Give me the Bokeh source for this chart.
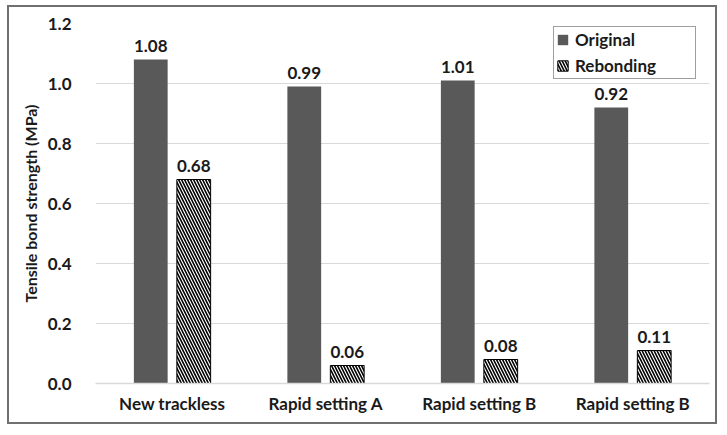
from bokeh.plotting import figure
from bokeh.models import ColumnDataSource, Range1d, FixedTicker, Legend, LegendItem, LabelSet
from bokeh.core.properties import value
from bokeh.embed import file_html
from bokeh.resources import INLINE

categories = ["New trackless", "Rapid setting A", "Rapid setting B", "Rapid setting B"]
original = [1.08, 0.99, 1.01, 0.92]
rebonding = [0.68, 0.06, 0.08, 0.11]
y_ticks = [0.0, 0.2, 0.4, 0.6, 0.8, 1.0, 1.2]

xs = list(range(len(categories)))
FONT = "Lato"

src_o = ColumnDataSource(dict(x=[i - 0.14 for i in xs], top=original,
                              lbl=[f"{v:.2f}" for v in original]))
src_r = ColumnDataSource(dict(x=[i + 0.14 for i in xs], top=rebonding,
                              lbl=[f"{v:.2f}" for v in rebonding]))

p = figure(width=710, height=419, output_backend="svg", toolbar_location=None,
           x_range=Range1d(-0.5, len(categories) - 0.5), y_range=Range1d(0, 1.2),
           min_border_left=86, min_border_right=10, min_border_top=16, min_border_bottom=43)
p.styles = {"border": "2px solid #707070", "margin-left": "7px", "margin-top": "5px"}
p.outline_line_color = None
p.background_fill_color = "white"

r_o = p.vbar(x="x", top="top", width=0.22, source=src_o, fill_color="#595959", line_color=None)
r_r = p.vbar(x="x", top="top", width=0.22, source=src_r, fill_color="white",
             line_color="black", line_width=1,
             hatch_pattern="left_diagonal_line", hatch_color="black",
             hatch_scale=6, hatch_weight=1.6)

for s in (src_o, src_r):
    p.add_layout(LabelSet(x="x", y="top", text="lbl", source=s, text_align="center",
                          text_baseline="bottom", y_offset=8, text_font=value(FONT),
                          text_font_style="bold", text_font_size="17px", text_color="#1a1a1a"))

p.xaxis.ticker = FixedTicker(ticks=xs)
p.xaxis.major_label_overrides = {i: c for i, c in enumerate(categories)}
p.xaxis.major_label_text_font = FONT
p.xaxis.major_label_text_font_style = "bold"
p.xaxis.major_label_text_font_size = "17px"
p.xaxis.major_label_text_color = "#1a1a1a"
p.xaxis.major_label_standoff = 3
p.xaxis.axis_line_color = "#d9d9d9"
p.xaxis.axis_line_width = 1.5
p.xaxis.major_tick_line_color = None
p.xaxis.minor_tick_line_color = None

p.yaxis.ticker = FixedTicker(ticks=y_ticks)
p.yaxis.major_label_overrides = {v: f"{v:.1f}" for v in y_ticks}
p.yaxis.major_label_text_font = FONT
p.yaxis.major_label_text_font_style = "bold"
p.yaxis.major_label_text_font_size = "17px"
p.yaxis.major_label_text_color = "#1a1a1a"
p.yaxis.major_label_standoff = 18
p.yaxis.axis_line_color = None
p.yaxis.major_tick_line_color = None
p.yaxis.minor_tick_line_color = None
p.yaxis.axis_label = "Tensile bond strength (MPa)"
p.yaxis.axis_label_text_font = FONT
p.yaxis.axis_label_text_font_style = "bold"
p.yaxis.axis_label_text_font_size = "16px"
p.yaxis.axis_label_text_color = "#1a1a1a"
p.yaxis.axis_label_standoff = 5

p.xgrid.grid_line_color = None
p.ygrid.grid_line_color = "#d9d9d9"
p.ygrid.grid_line_width = 1.2

legend = Legend(items=[LegendItem(label="Original", renderers=[r_o]),
                       LegendItem(label="Rebonding", renderers=[r_r])],
                location=(458, 304), orientation="vertical")
legend.label_text_font = FONT
legend.label_text_font_style = "bold"
legend.label_text_font_size = "17px"
legend.label_text_color = "#1a1a1a"
legend.glyph_width = 13
legend.glyph_height = 13
legend.label_width = 118
legend.label_height = 17
legend.label_standoff = 6
legend.spacing = 5
legend.padding = 2
legend.margin = 0
legend.border_line_color = "#404040"
legend.border_line_width = 1.5
legend.background_fill_alpha = 1
p.add_layout(legend)

open("out.html", "w").write(file_html(p, INLINE))
